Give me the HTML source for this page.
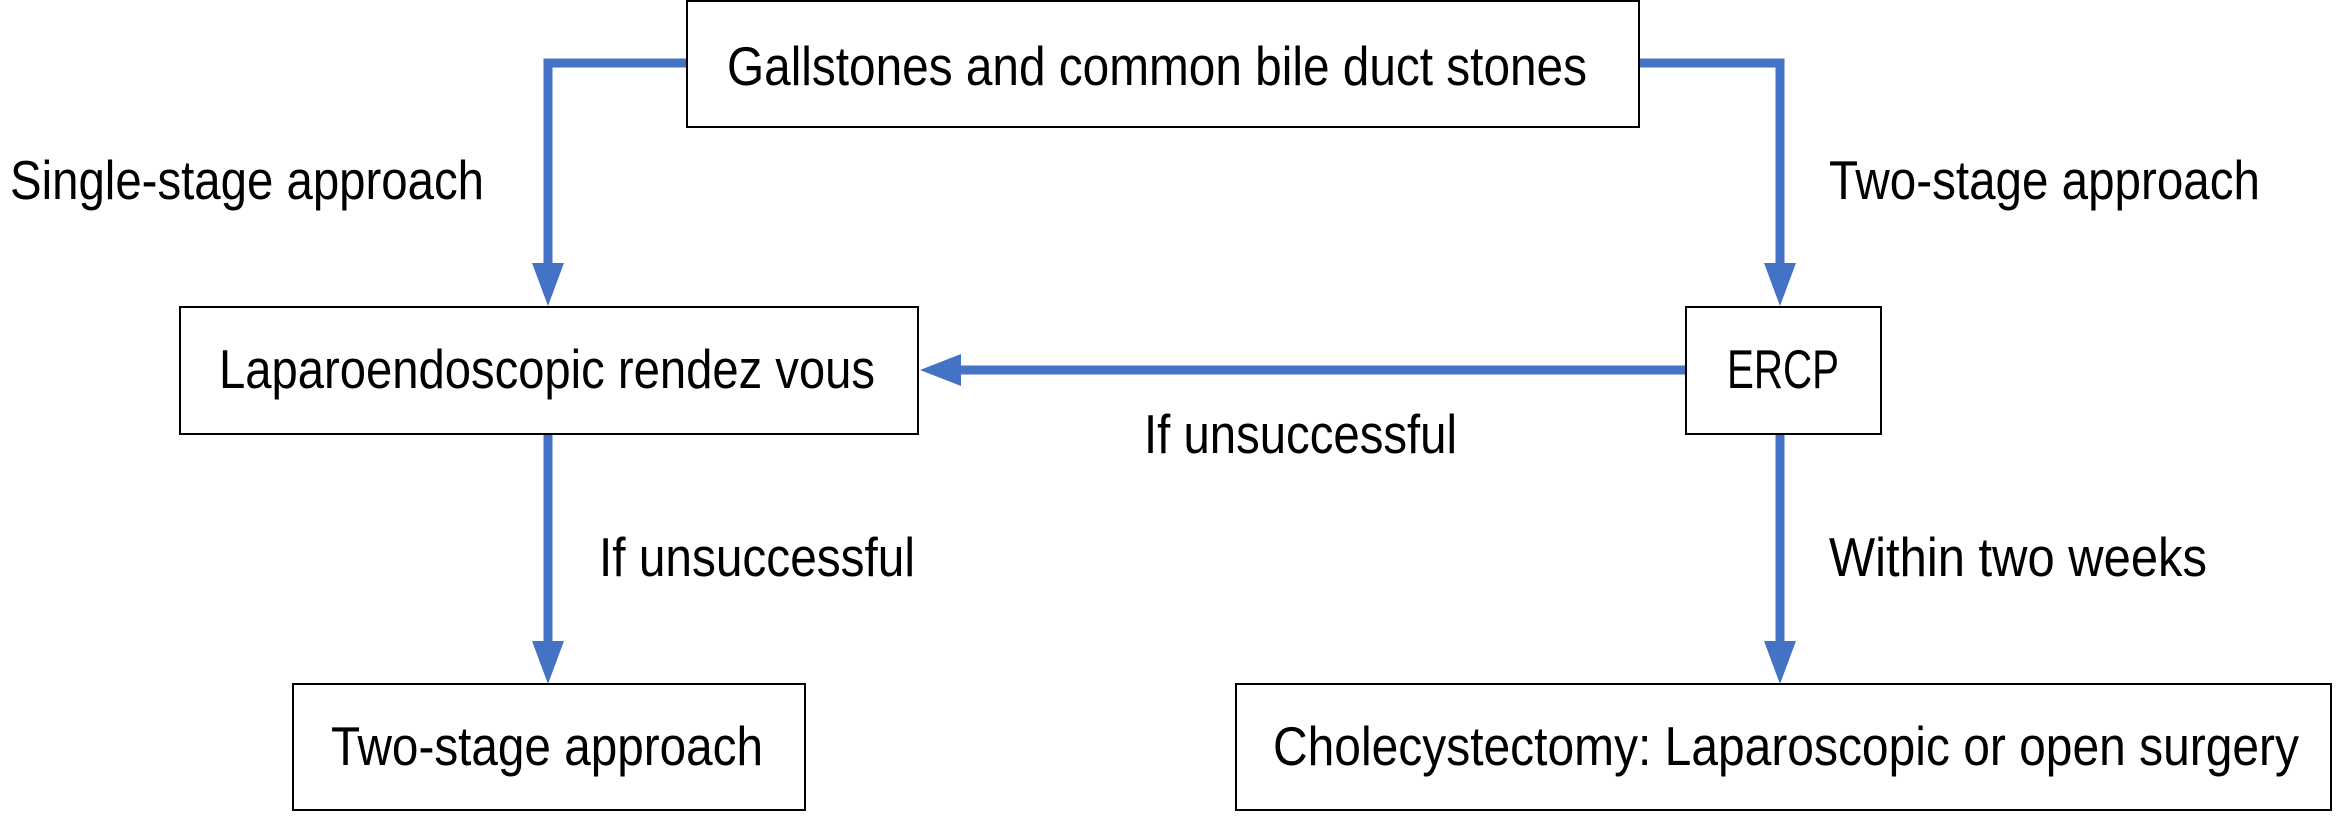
<!DOCTYPE html>
<html><head><meta charset="utf-8"><style>
html,body{margin:0;padding:0;background:#fff;}
svg{display:block;}
text{font-family:"Liberation Sans",sans-serif;font-size:55px;fill:#000;}
</style></head><body>
<svg width="2341" height="831" viewBox="0 0 2341 831" xmlns="http://www.w3.org/2000/svg">
<g fill="none" stroke="#4472C4" stroke-width="9">
<polyline points="687,63 548,63 548,266"/>
<polyline points="1639,63 1780,63 1780,266"/>
<line x1="1686" y1="370" x2="958" y2="370"/>
<line x1="548" y1="435" x2="548" y2="644"/>
<line x1="1780" y1="435" x2="1780" y2="644"/>
</g>
<g fill="#4472C4">
<polygon points="532,263 564,263 548,306"/>
<polygon points="1764,263 1796,263 1780,306"/>
<polygon points="961,354 961,386 920,370"/>
<polygon points="532,641 564,641 548,684"/>
<polygon points="1764,641 1796,641 1780,684"/>
</g>
<g fill="#fff" stroke="#000" stroke-width="2">
<rect x="687" y="1" width="952" height="126"/>
<rect x="180" y="307" width="738" height="127"/>
<rect x="1686" y="307" width="195" height="127"/>
<rect x="293" y="684" width="512" height="126"/>
<rect x="1236" y="684" width="1095" height="126"/>
</g>
<text x="727" y="85" textLength="860" lengthAdjust="spacingAndGlyphs">Gallstones and common bile duct stones</text>
<text x="219" y="388" textLength="656" lengthAdjust="spacingAndGlyphs">Laparoendoscopic rendez vous</text>
<text x="1727" y="388" textLength="112" lengthAdjust="spacingAndGlyphs">ERCP</text>
<text x="331" y="765" textLength="432" lengthAdjust="spacingAndGlyphs">Two-stage approach</text>
<text x="1273" y="765" textLength="1026" lengthAdjust="spacingAndGlyphs">Cholecystectomy: Laparoscopic or open surgery</text>
<text x="10" y="199" textLength="474" lengthAdjust="spacingAndGlyphs">Single-stage approach</text>
<text x="1829" y="199" textLength="431" lengthAdjust="spacingAndGlyphs">Two-stage approach</text>
<text x="1144" y="453" textLength="313" lengthAdjust="spacingAndGlyphs">If unsuccessful</text>
<text x="599" y="576" textLength="316" lengthAdjust="spacingAndGlyphs">If unsuccessful</text>
<text x="1829" y="576" textLength="378" lengthAdjust="spacingAndGlyphs">Within two weeks</text>
</svg>
</body></html>
